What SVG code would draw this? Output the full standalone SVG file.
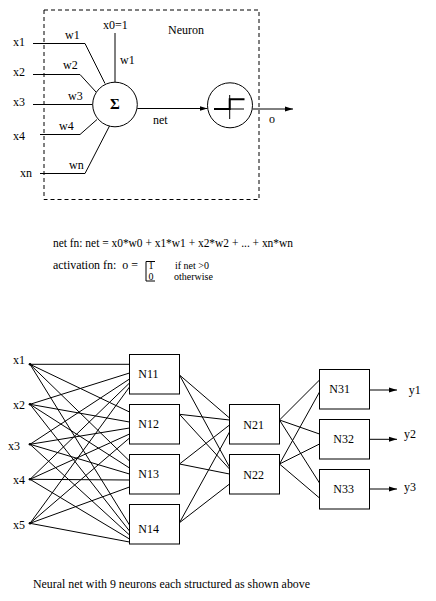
<svg xmlns="http://www.w3.org/2000/svg" width="436" height="601" viewBox="0 0 436 601">
<defs>
<style>
text{font-family:"Liberation Serif","Times New Roman",serif;font-size:12px;fill:#000}
.sm{font-size:10px}
.ln{stroke:#000;stroke-width:1;fill:none}
.box{stroke:#000;stroke-width:1;fill:#fff}
.thick{stroke:#000;stroke-width:2;fill:none}
</style>
<marker id="arr" viewBox="0 0 8 6" refX="8" refY="3" markerWidth="8" markerHeight="6" markerUnits="userSpaceOnUse" orient="auto">
<path d="M0,0.5 L8,3 L0,5.5 z" fill="#000"/>
</marker>
</defs>
<rect width="436" height="601" fill="#fff"/>

<!-- Top neuron diagram -->
<g id="neuron-frame">
<rect x="44" y="10" width="215" height="189.5" fill="none" stroke="#000" stroke-width="1" stroke-dasharray="4,3"/>
<text x="168" y="34">Neuron</text>
</g>

<g id="connectors-top">
<polyline class="ln" points="33,43.5 85,43.5 105,83.5"/>
<polyline class="ln" points="33,74.5 80,74.5 96,92"/>
<line class="ln" x1="33" y1="104.5" x2="92.7" y2="104.5"/>
<polyline class="ln" points="40,134.5 80,134.5 97,119.5"/>
<polyline class="ln" points="40,173.5 85,173.5 110,125"/>
<line class="ln" x1="115" y1="33" x2="115" y2="82"/>
<line class="ln" x1="137.3" y1="108.5" x2="207.5" y2="108.5" marker-end="url(#arr)"/>
<line class="ln" x1="252.5" y1="109" x2="293" y2="109" marker-end="url(#arr)"/>
</g>

<g id="top-labels">
<text x="13" y="46">x1</text>
<text x="13" y="75.5">x2</text>
<text x="13" y="105.5">x3</text>
<text x="13" y="139.5">x4</text>
<text x="20" y="177">xn</text>
<text x="65" y="39">w1</text>
<text x="63" y="69">w2</text>
<text x="68" y="100">w3</text>
<text x="59" y="130">w4</text>
<text x="69" y="169">wn</text>
<text x="103" y="29">x0=1</text>
<text x="120" y="64">w1</text>
<text x="153" y="124">net</text>
<text x="269" y="123">o</text>
</g>

<g id="sum">
<circle cx="115" cy="104.5" r="22.3" fill="#fff" stroke="#000" stroke-width="1"/>
<text x="115" y="109" text-anchor="middle" style="font-size:15px;font-weight:bold">Σ</text>
</g>

<g id="activation">
<circle cx="230" cy="105.3" r="22.5" fill="#fff" stroke="#000" stroke-width="1"/>
<line class="ln" x1="229.7" y1="95" x2="229.7" y2="119"/>
<line class="ln" x1="229" y1="109" x2="244" y2="109"/>
<polyline class="thick" points="214,109 229.7,109 229.7,99.3 244.5,99.3"/>
</g>

<!-- Formulas -->
<g id="formulas">
<text x="53" y="246.5" textLength="240" lengthAdjust="spacingAndGlyphs">net fn: net = x0*w0 + x1*w1 + x2*w2 + ... + xn*wn</text>
<text x="53" y="269" textLength="85" lengthAdjust="spacingAndGlyphs" xml:space="preserve">activation fn:  o =</text>
<polyline class="ln" points="155,261.5 146,261.5 146,281 155,281"/>
<text class="sm" x="148.5" y="269">1</text>
<text class="sm" x="148.5" y="279.5">0</text>
<text class="sm" x="175" y="269">if net &gt;0</text>
<text class="sm" x="174" y="279.5">otherwise</text>
</g>

<!-- Network connectors -->
<g id="connectors">
<!-- inputs to layer 1 -->
<line class="ln" x1="30" y1="364.3" x2="129.5" y2="364.3"/>
<line class="ln" x1="30" y1="364.3" x2="129.5" y2="412"/>
<line class="ln" x1="30" y1="364.3" x2="129.5" y2="461"/>
<line class="ln" x1="30" y1="364.3" x2="129.5" y2="525"/>
<line class="ln" x1="30" y1="404.3" x2="129.5" y2="373"/>
<line class="ln" x1="30" y1="404.3" x2="129.5" y2="422"/>
<line class="ln" x1="30" y1="404.3" x2="129.5" y2="468"/>
<line class="ln" x1="30" y1="404.3" x2="129.5" y2="531"/>
<line class="ln" x1="30" y1="444.3" x2="129.5" y2="379"/>
<line class="ln" x1="30" y1="444.3" x2="129.5" y2="428"/>
<line class="ln" x1="30" y1="444.3" x2="129.5" y2="474"/>
<line class="ln" x1="30" y1="444.3" x2="129.5" y2="535"/>
<line class="ln" x1="30" y1="479.3" x2="129.5" y2="383"/>
<line class="ln" x1="30" y1="479.3" x2="129.5" y2="434"/>
<line class="ln" x1="30" y1="479.3" x2="129.5" y2="480"/>
<line class="ln" x1="30" y1="479.3" x2="129.5" y2="539"/>
<line class="ln" x1="30" y1="523.3" x2="129.5" y2="387"/>
<line class="ln" x1="30" y1="523.3" x2="129.5" y2="438"/>
<line class="ln" x1="30" y1="523.3" x2="129.5" y2="487"/>
<line class="ln" x1="30" y1="523.3" x2="129.5" y2="542"/>
<!-- layer 1 to layer 2 -->
<line class="ln" x1="179.5" y1="375" x2="229.5" y2="418"/>
<line class="ln" x1="179.5" y1="375" x2="229.5" y2="467"/>
<line class="ln" x1="179.5" y1="414.3" x2="229.5" y2="420"/>
<line class="ln" x1="179.5" y1="414.3" x2="229.5" y2="469"/>
<line class="ln" x1="179.5" y1="464" x2="229.5" y2="425"/>
<line class="ln" x1="179.5" y1="464" x2="229.5" y2="474"/>
<line class="ln" x1="179.5" y1="522.7" x2="229.5" y2="432"/>
<line class="ln" x1="179.5" y1="522.7" x2="229.5" y2="484"/>
<!-- layer 2 to layer 3 -->
<line class="ln" x1="279.5" y1="420" x2="319.5" y2="380"/>
<line class="ln" x1="279.5" y1="420" x2="319.5" y2="434"/>
<line class="ln" x1="279.5" y1="420" x2="319.5" y2="483"/>
<line class="ln" x1="279.5" y1="464" x2="319.5" y2="392"/>
<line class="ln" x1="279.5" y1="464" x2="319.5" y2="444"/>
<line class="ln" x1="279.5" y1="464" x2="319.5" y2="498"/>
<!-- outputs -->
<line class="ln" x1="369.5" y1="390" x2="397" y2="390" marker-end="url(#arr)"/>
<line class="ln" x1="369.5" y1="439.3" x2="397" y2="439.3" marker-end="url(#arr)"/>
<line class="ln" x1="369.5" y1="489" x2="397" y2="489" marker-end="url(#arr)"/>
</g>

<!-- Inputs -->
<g id="x1"><circle cx="30" cy="364.3" r="1.3" fill="#000"/><text x="13" y="364">x1</text></g>
<g id="x2"><circle cx="30" cy="404.3" r="1.3" fill="#000"/><text x="13" y="409">x2</text></g>
<g id="x3"><circle cx="30" cy="444.3" r="1.3" fill="#000"/><text x="8" y="450">x3</text></g>
<g id="x4"><circle cx="30" cy="479.3" r="1.3" fill="#000"/><text x="13" y="484">x4</text></g>
<g id="x5"><circle cx="30" cy="523.3" r="1.3" fill="#000"/><text x="13" y="529">x5</text></g>

<!-- Layer 1 -->
<g id="N11"><rect class="box" x="129.5" y="354.5" width="50" height="39.5"/><text x="138.3" y="378.3">N11</text></g>
<g id="N12"><rect class="box" x="129.5" y="404.5" width="50" height="39.5"/><text x="138.3" y="428.3">N12</text></g>
<g id="N13"><rect class="box" x="129.5" y="454.5" width="50" height="39.5"/><text x="138.3" y="478.3">N13</text></g>
<g id="N14"><rect class="box" x="129.5" y="504.5" width="50" height="39.5"/><text x="138.3" y="533.3">N14</text></g>

<!-- Layer 2 -->
<g id="N21"><rect class="box" x="229.5" y="404.5" width="50" height="39.5"/><text x="243.3" y="429">N21</text></g>
<g id="N22"><rect class="box" x="229.5" y="454.5" width="50" height="39.5"/><text x="243.3" y="479">N22</text></g>

<!-- Layer 3 -->
<g id="N31"><rect class="box" x="319.5" y="369.5" width="50" height="39.5"/><text x="329.3" y="393.3">N31</text></g>
<g id="N32"><rect class="box" x="319.5" y="419.5" width="50" height="39.5"/><text x="333.3" y="443.3">N32</text></g>
<g id="N33"><rect class="box" x="319.5" y="469.5" width="50" height="39.5"/><text x="333.3" y="492.7">N33</text></g>

<!-- Outputs -->
<g id="y1"><text x="408.7" y="393.5">y1</text></g>
<g id="y2"><text x="404" y="438">y2</text></g>
<g id="y3"><text x="404" y="491">y3</text></g>

<g id="caption">
<text x="33" y="588" textLength="277" lengthAdjust="spacingAndGlyphs">Neural net with 9 neurons each structured as shown above</text>
</g>
</svg>
